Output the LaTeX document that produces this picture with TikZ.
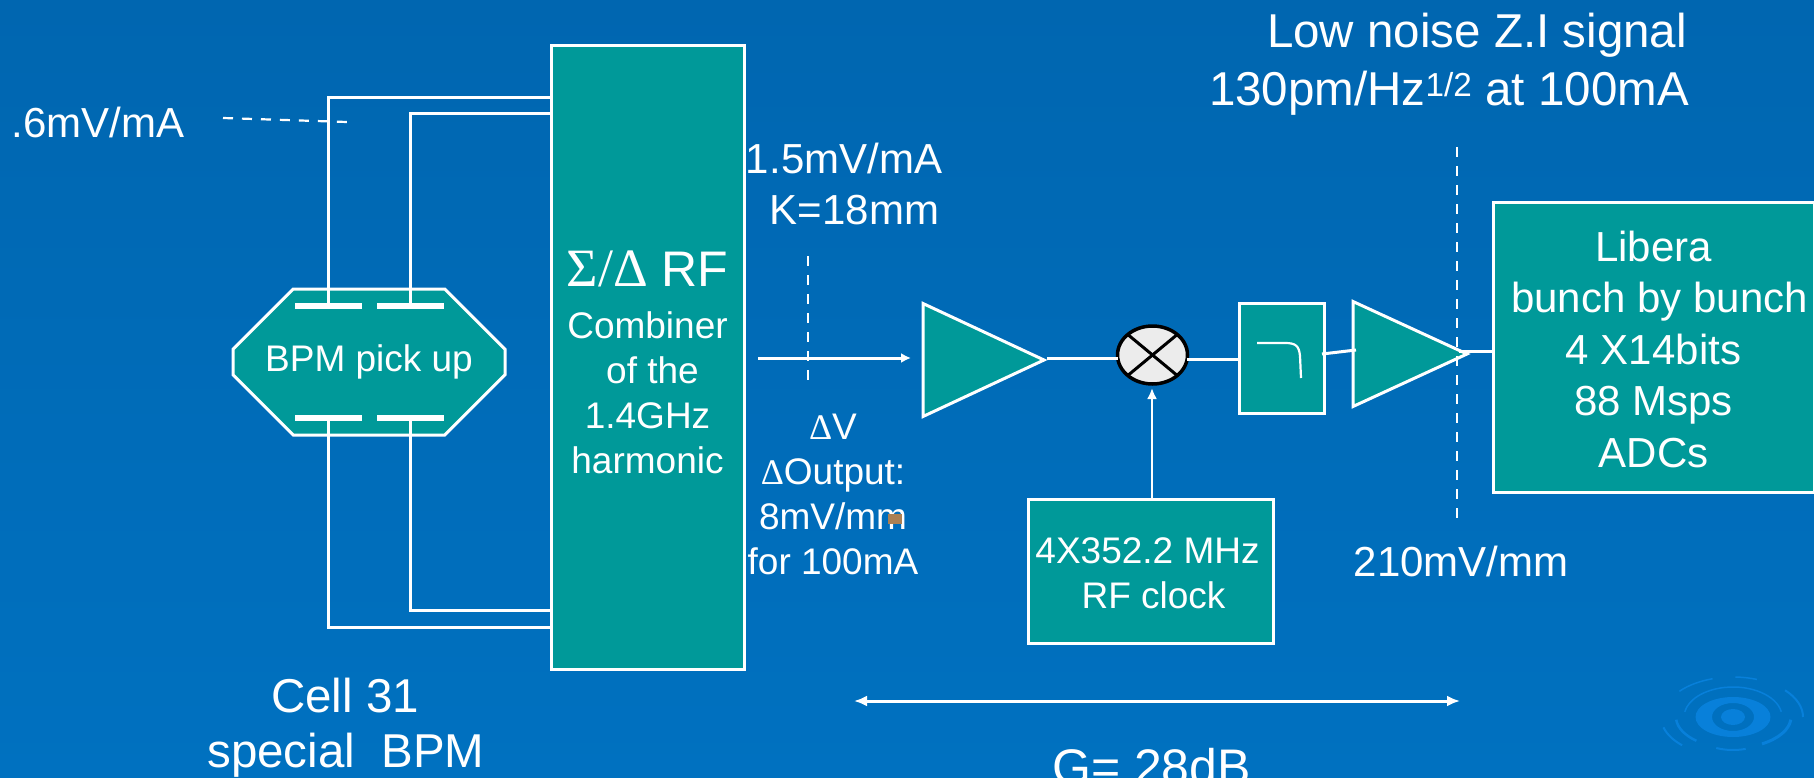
\documentclass[tikz,border=0pt]{standalone}
\usepackage{fontspec}
\setmainfont{Liberation Sans}
\newfontfamily\serifsym{Liberation Serif}
\usetikzlibrary{arrows.meta,shapes.geometric,shapes.misc}
\definecolor{boxteal}{RGB}{0,153,153}
\definecolor{slidetop}{RGB}{0,102,176}
\definecolor{slidemid}{RGB}{0,102,173}
\definecolor{slidebot}{RGB}{0,113,192}
\definecolor{ripple}{RGB}{8,128,218}
\tikzset{
    wire/.style={draw=white, line width=3pt},
    cut/.style={draw=white, line width=2.2pt, dash pattern=on 10pt off 9pt},
    tealbox/.style={draw=white, line width=3pt, fill=boxteal, text=white, rectangle, inner sep=0pt, outer sep=0pt, align=center},
    amp/.style={draw=white, line width=3pt, fill=boxteal, isosceles triangle, isosceles triangle stretches, shape border rotate=0, inner sep=0pt, outer sep=0pt, anchor=apex},
    plate/.style={fill=white, rectangle, minimum width=67pt, minimum height=6pt, inner sep=0pt, outer sep=0pt},
    label/.style={text=white, inner sep=0pt, align=center},
    big/.style={font=\fontsize{47.5}{52}\selectfont},
    mid/.style={font=\fontsize{42}{51.5}\selectfont},
    small/.style={font=\fontsize{37}{45}\selectfont}
}
\begin{document}
\begin{tikzpicture}[x=1pt, y=-1pt]
    \useasboundingbox (0,0) rectangle (1814,778);
    \clip (0,0) rectangle (1814,778);
    \shade[top color=slidetop, middle color=slidemid, bottom color=slidebot] (0,0) rectangle (1814,778);

    % Ripple logo
    \begin{scope}[shift={(1733,717)}, y=1pt]
        \fill[ripple] (0,0) ellipse [x radius=12, y radius=8];
        \fill[ripple, even odd rule] (0,0) ellipse [x radius=37.5, y radius=20] (0,0) ellipse [x radius=21, y radius=14];
        \foreach \from/\to/\rx/\ry/\wd in {10/170/49/30/1.5, 185/230/57/31/2.5, 250/285/49/33/2, 300/355/58/31/3, 107/140/70/40/1.5, 70/88/70/40/1.5, 0/42/70/40/2, 195/225/72/40/2}
            \draw[ripple, line width=\wd pt] (\from:\rx pt and \ry pt) arc [start angle=\from, end angle=\to, x radius=\rx pt, y radius=\ry pt];
    \end{scope}

    % Pick up and combiner
    \node[tealbox, chamfered rectangle, chamfered rectangle xsep=43pt, chamfered rectangle ysep=43pt, minimum width=272pt, minimum height=146pt, small] (pickup) at (369,362) {BPM pick up};
    \node[tealbox, minimum width=193pt, minimum height=623pt, small] (combiner) at (647.5,357.5) {\rule{0pt}{45pt}{\fontsize{54}{56}\selectfont\serifsym Σ/Δ}{\fontsize{50}{56}\selectfont{} RF}\\[7pt]Combiner\\\hspace*{10pt}of the\\1.4GHz\\harmonic};

    \node[plate] (plateta) at (328,306) {};
    \node[plate] (platetb) at (410,306) {};
    \node[plate] (plateba) at (328,418) {};
    \node[plate] (platebb) at (410,418) {};

    \coordinate (inta) at (combiner.west |- 0,98);
    \coordinate (intb) at (combiner.west |- 0,114);
    \coordinate (inba) at (combiner.west |- 0,627);
    \coordinate (inbb) at (combiner.west |- 0,610);

    \draw[wire] (plateta) |- (inta);
    \draw[wire] (platetb) |- (intb);
    \draw[wire] (plateba) |- (inba);
    \draw[wire] (platebb) |- (inbb);

    % Signal chain
    \node[amp, minimum height=121pt, minimum width=113pt] (ampa) at (1044,360) {};
    \node[tealbox, ellipse, fill=gray!15, draw=black, line width=3.5pt, minimum width=70pt, minimum height=58pt] (mixer) at (1152.5,355) {};
    \draw[black, line width=3pt] (mixer.north west) -- (mixer.south east);
    \draw[black, line width=3pt] (mixer.north east) -- (mixer.south west);
    \node[tealbox, minimum width=85pt, minimum height=110pt] (filter) at (1281.5,358) {};
    \node[amp, minimum height=114pt, minimum width=105pt] (ampb) at (1467,354) {};
    \node[tealbox, minimum width=321pt, minimum height=289pt, mid] (libera) at (1653.5,347.5) {\rule{0pt}{34pt}Libera\\\hspace*{12pt}bunch by bunch\\4 X14bits\\88 Msps\hspace*{12pt}\\ADCs};
    \node[tealbox, minimum width=245pt, minimum height=144pt, small] (clock) at (1150.5,571) {\rule{0pt}{31pt}4X352.2 MHz\hspace*{6pt}\\\hspace*{6pt}RF clock};

    \coordinate (inputend) at (758,358);
    \coordinate (ampain) at (911,358);
    \coordinate (ampaout) at (1047,358);
    \coordinate (mixerin) at (1118,358);
    \coordinate (mixerout) at (1187,359);
    \coordinate (filterin) at (1239,359);
    \coordinate (filterout) at (1322,354);
    \coordinate (ampbin) at (1356,350);
    \coordinate (ampbout) at (1459,351);
    \coordinate (liberain) at (1492,351);
    \coordinate (clockout) at (1152,499);
    \coordinate (mixerlo) at (1152,388);

    \draw[wire, -{Latex[length=10pt,width=10pt]}] (inputend) -- (ampain);
    \draw[wire] (ampaout) -- (mixerin);
    \draw[wire] (mixerout) -- (filterin);
    \draw[wire] (filterout) -- (ampbin);
    \draw[wire] (ampbout) -- (liberain);
    \draw[draw=white, line width=2.2pt, -{Latex[length=11pt,width=10pt]}] (clockout) -- (mixerlo);

    % Filter curve
    \draw[draw=white, line width=2.2pt] (1257,343) -- (1285,343) .. controls (1296,343) and (1299,346) .. (1300,356) -- (1301,378);

    % Cuts
    \coordinate (cutatop) at (808,256);
    \coordinate (cutabot) at (808,389);
    \coordinate (cutbtop) at (1457,147);
    \coordinate (cutbbot) at (1457,523);
    \coordinate (cutcleft) at (223,118);
    \coordinate (cutcright) at (347,122);
    \draw[cut] (cutatop) -- (cutabot);
    \draw[cut] (cutbtop) -- (cutbbot);
    \draw[cut] (cutcleft) -- (cutcright);

    % Gain span
    \coordinate (gainleft) at (854,701);
    \coordinate (gainright) at (1460,701);
    \draw[wire, {Latex[length=13pt,width=11pt]}-{Latex[length=13pt,width=11pt]}] (gainleft) -- (gainright);

    % Labels
    \node[label, big] (lownoise) at (1477,35.5) {Low noise Z.I signal};
    \node[label, big] (noisevalue) at (1449,93) {130pm/Hz\textsuperscript{1/2} at 100mA};
    \node[label, mid] (pickupgain) at (98,122) {.6mV/mA};
    \node[label, mid, align=left] (combgain) at (844,184) {1.5mV/mA\\\hspace*{24pt}K=18mm};
    \node[label, small] (deltaout) at (833,494.5) {{\serifsym\fontsize{36}{45}\selectfont Δ}V\\{\serifsym\fontsize{36}{45}\selectfont Δ}Output:\\8mV/mm\\for 100mA};
    \node[label, mid] (ampgain) at (1461,561) {210mV/mm};
    \node[label, big] (cella) at (345,696) {Cell 31};
    \node[label, big] (cellb) at (346,755) {special~~BPM};
    \node[label, font=\fontsize{50}{52}\selectfont] (gain) at (1151.5,767) {G= 28dB};

    % Speck
    \fill[brown!70!gray] (888,514) rectangle (902,524);
\end{tikzpicture}
\end{document}
